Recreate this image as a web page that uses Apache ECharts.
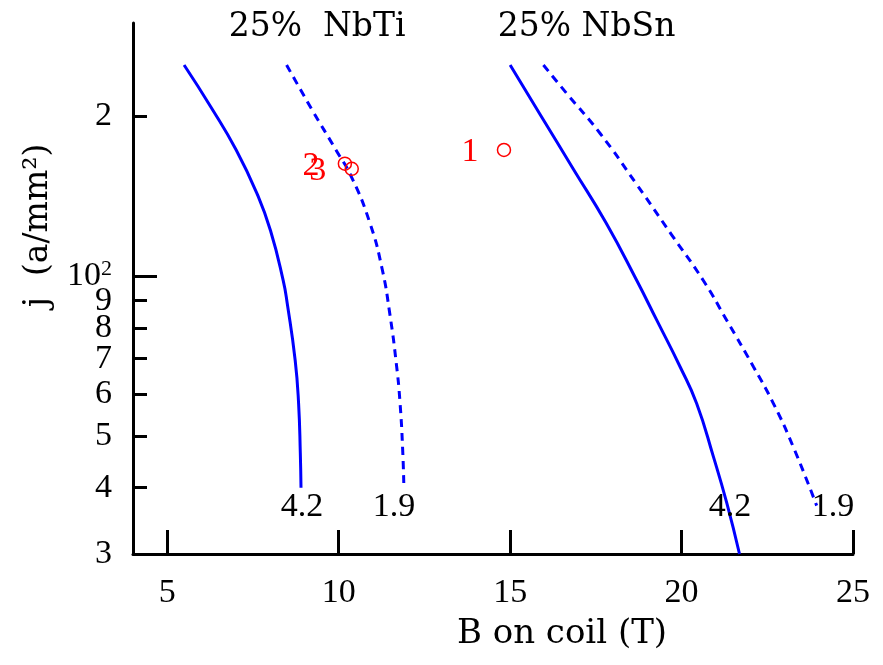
<!DOCTYPE html>
<html><head><meta charset="utf-8">
<script src="https://cdn.jsdelivr.net/npm/echarts@6/dist/echarts.min.js"></script>
<style>html,body{margin:0;padding:0;background:#fff}#c{width:883px;height:665px}</style>
</head><body><div id="c"></div>
<script>
// ---- data ----
const xTicks = [5, 10, 15, 20, 25];
const yMinorTicks = [30, 40, 50, 60, 70, 80, 90, 200];
const yMajorTicks = [100];
const yLabelValues = [30, 40, 50, 60, 70, 80, 90, 100, 200];
const yLabelTexts = ['3', '4', '5', '6', '7', '8', '9', '{a|10}{s|2}', '2'];

// B on coil (T), j (A/mm^2)
const nbti42 = [[5.49,250],[6.28,208],[7.01,173],[7.62,143],[8.01,122],[8.38,98.3],[8.50,88.8],[8.73,69.5],[8.83,57.6],[8.88,46.5],[8.90,40]];
const nbti19 = [[8.48,250],[9.24,205],[9.92,173],[10.37,154],[10.91,126],[11.27,103],[11.49,85],[11.68,68.5],[11.79,57.6],[11.87,46.4],[11.90,40]];
const nbsn42 = [[15.0,250],[15.87,202],[16.85,159],[17.80,126],[18.69,98.3],[19.28,82.6],[19.96,67.5],[20.44,57.6],[20.93,45.7],[21.32,37.4],[21.69,30]];
const nbsn19 = [[15.97,250],[16.65,221],[17.62,186],[18.69,149],[19.70,120],[20.63,98.3],[21.32,82.6],[22.10,67.5],[22.68,57.6],[23.26,47.7],[23.94,37]];

const pointNames = ['1', '2', '3'];
const pointValues = [[14.82,173],[10.18,163],[10.38,159.4]];

const titleTexts = ['25%  NbTi', '25% NbSn'];
const titlePos = [[9.37,294],[17.23,294]];
const tempTexts = ['4.2', '1.9', '4.2', '1.9'];
const tempPos = [[8.93,36.7],[11.61,36.7],[21.41,36.7],[24.42,36.7]];

// ---- chart ----
const NUMFONT = '"Liberation Serif", "DejaVu Serif", serif';
const WORDFONT = '"DejaVu Serif", "Liberation Serif", serif';
const FS = 34;
const chart = echarts.init(document.getElementById('c'), null, {renderer: 'canvas'});

function curve(data, dashed) {
  return {
    type: 'line', data: data, showSymbol: false, symbol: 'none', smooth: 0.5,
    lineStyle: {color: '#0000ff', width: 3, type: dashed ? [8, 6] : 'solid'},
    emphasis: {disabled: true}, z: 2
  };
}
function textSeries(texts, pos, font, size, color) {
  return {
    type: 'scatter', z: 4, clip: false, silent: true,
    data: pos.map(function (v, i) { return {value: v, name: texts[i]}; }),
    symbol: 'circle', symbolSize: 1,
    itemStyle: {color: 'transparent', opacity: 1},
    label: {show: true, position: 'inside', formatter: '{b}', fontSize: size, fontFamily: font,
            color: color, opacity: 1, textBorderWidth: 0},
    emphasis: {disabled: true}
  };
}

const option = {
  animation: false,
  backgroundColor: '#fff',
  grid: {left: 133, right: 30, top: 23, bottom: 111, containLabel: false},
  xAxis: {
    type: 'value', min: 4, max: 25,
    axisLine: {show: true, onZero: false, lineStyle: {color: '#000', width: 3}},
    axisTick: {show: true, inside: true, length: 24, customValues: xTicks, lineStyle: {color: '#000', width: 3}},
    axisLabel: {show: true, customValues: xTicks, margin: 22, fontSize: FS, fontFamily: NUMFONT, color: '#000'},
    splitLine: {show: false},
    name: 'B on coil (T)', nameLocation: 'middle', nameGap: 63,
    nameTextStyle: {fontSize: FS, fontFamily: WORDFONT, color: '#000', padding: [0, 0, 0, 138]}
  },
  yAxis: [{
    type: 'log', logBase: 10, min: 30, max: 300,
    axisLine: {show: true, lineStyle: {color: '#000', width: 3}},
    axisTick: {show: true, inside: true, length: 14, customValues: yMinorTicks, lineStyle: {color: '#000', width: 3}},
    axisLabel: {
      show: true, customValues: yLabelValues, margin: 21, fontSize: FS, fontFamily: NUMFONT, color: '#000',
      formatter: function (v) {
        let best = 0, d = Infinity;
        yLabelValues.forEach(function (t, i) { const dd = Math.abs(Math.log(t) - Math.log(v)); if (dd < d) { d = dd; best = i; } });
        return yLabelTexts[best];
      },
      rich: {
        a: {fontSize: FS, fontFamily: NUMFONT, color: '#000'},
        s: {fontSize: 22, fontFamily: NUMFONT, color: '#000', verticalAlign: 'top', padding: [0, 0, 14, 0]}
      }
    },
    splitLine: {show: false}, minorTick: {show: false},
    name: 'j  (a/mm²)', nameLocation: 'middle', nameRotate: 90, nameGap: 78,
    nameTextStyle: {fontSize: 33, fontFamily: WORDFONT, color: '#000', padding: [0, 0, 0, 126]}
  }, {
    type: 'log', logBase: 10, min: 30, max: 300, position: 'left',
    axisLine: {show: false},
    axisTick: {show: true, inside: true, length: 24, customValues: yMajorTicks, lineStyle: {color: '#000', width: 3}},
    axisLabel: {show: false},
    splitLine: {show: false}
  }],
  series: [
    curve(nbti42, false),
    curve(nbti19, true),
    curve(nbsn42, false),
    curve(nbsn19, true),
    {
      type: 'scatter', z: 3, silent: true,
      data: pointValues.map(function (v, i) { return {value: v, name: pointNames[i]}; }),
      symbol: 'circle', symbolSize: 13,
      itemStyle: {color: 'transparent', borderColor: '#ff0000', borderWidth: 1.5, opacity: 1},
      label: {show: true, position: 'inside', offset: [-34, 2], formatter: '{b}', fontSize: FS,
              fontFamily: NUMFONT, color: '#ff0000', opacity: 1, textBorderWidth: 0},
      emphasis: {disabled: true}
    },
    textSeries(titleTexts, titlePos, WORDFONT, 33, '#000'),
    textSeries(tempTexts, tempPos, NUMFONT, FS, '#000')
  ]
};
chart.setOption(option);
</script>
</body></html>
